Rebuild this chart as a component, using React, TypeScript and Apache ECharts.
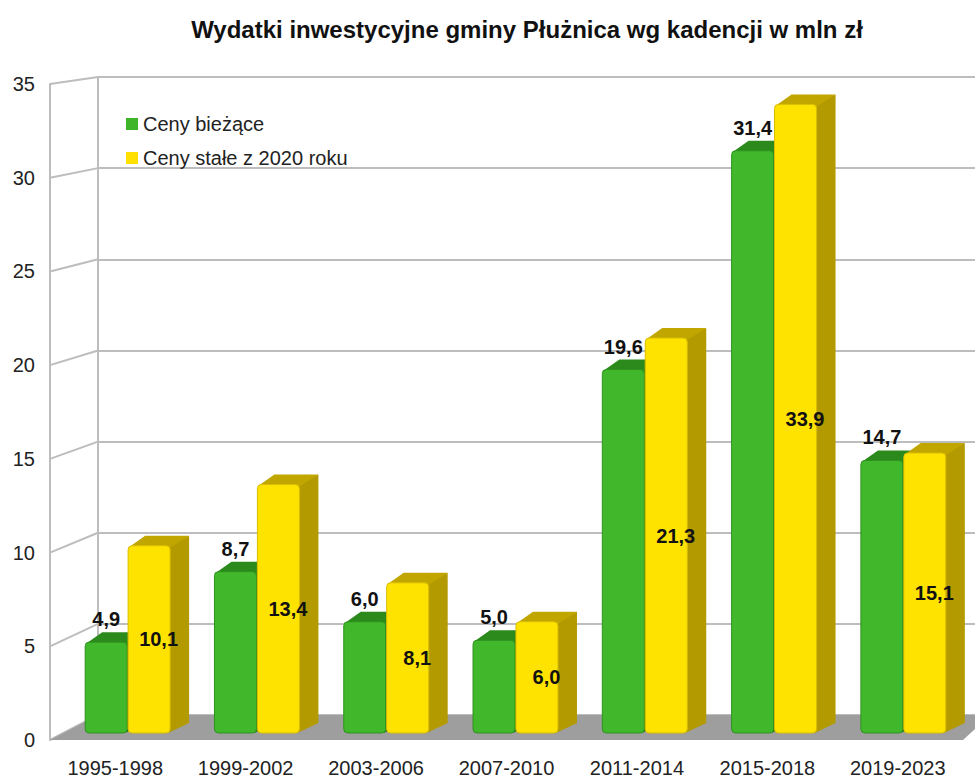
import React, { useEffect, useRef } from "react";
import * as echarts from "echarts";

const categories = ["1995-1998", "1999-2002", "2003-2006", "2007-2010", "2011-2014", "2015-2018", "2019-2023"];
const currentPrices = [4.9, 8.7, 6.0, 5.0, 19.6, 31.4, 14.7];
const constantPrices = [10.1, 13.4, 8.1, 6.0, 21.3, 33.9, 15.1];
const yTicks = [0, 5, 10, 15, 20, 25, 30, 35];
const seriesNames = ["Ceny bieżące", "Ceny stałe z 2020 roku"];

const FONT = '"Liberation Sans", Arial, Helvetica, sans-serif';
const Y_MAX = 35;

// layout (pixels)
const FRONT_LEFT = 50, FRONT_TOP = 84, FRONT_BOTTOM = 740;
const BACK_LEFT = 98, BACK_TOP = 77, BACK_BOTTOM = 715;
const DX = 19, DY = -10;
const GRID_LINE = "#bdbdbd";

const fmt = (v: number) => v.toFixed(1).replace(".", ",");

function makeRender(side: number, c: { front: string; stroke: string; top: string; side: string }, inside: boolean) {
  return (params: any, api: any) => {
    const idx = api.value(0);
    const v = api.value(1);
    const band = api.size([1, 0])[0];
    const w = band * 0.325;
    const off = band * 0.166 * side;
    const topPt = api.coord([idx, v]);
    const basePt = api.coord([idx, 0]);
    const cx = topPt[0] + off;
    const xl = cx - w / 2, xr = cx + w / 2;
    const yt = topPt[1], yb = basePt[1];
    const children: any[] = [
      {
        type: "polygon",
        shape: { points: [[xr - 2, yt], [xr + DX, yt + DY], [xr + DX, yb + DY], [xr - 2, yb]] },
        style: { fill: c.side },
      },
      {
        type: "polygon",
        shape: { points: [[xl, yt + 2], [xl + DX - 2, yt + DY], [xr + DX, yt + DY], [xr, yt + 2]] },
        style: { fill: c.top },
      },
      {
        type: "rect",
        shape: { x: xl, y: yt, width: w, height: yb - yt, r: 4 },
        style: { fill: c.front, stroke: c.stroke, lineWidth: 1 },
      },
    ];
    children.push({
      type: "text",
      style: {
        text: fmt(v),
        x: inside ? xl + (w + DX) / 2 : cx,
        y: inside ? (yt + yb) / 2 : yt - 23,
        align: "center", verticalAlign: "middle",
        font: `bold 20px ${FONT}`, fill: "#111",
      },
    });
    return { type: "group", children };
  };
}

export default function App() {
  const ref = useRef<HTMLDivElement>(null);
  useEffect(() => {
    if (!ref.current) return;
    const chart = echarts.init(ref.current, undefined, { renderer: "svg" });

    const yFront = (v: number) => FRONT_BOTTOM - (v / Y_MAX) * (FRONT_BOTTOM - FRONT_TOP);
    const yBack = (v: number) => BACK_BOTTOM - (v / Y_MAX) * (BACK_BOTTOM - BACK_TOP);
    const sideLines = yTicks.map((v) => ({
      type: "line",
      z: 0,
      shape: { x1: FRONT_LEFT, y1: yFront(v), x2: BACK_LEFT, y2: yBack(v) },
      style: { stroke: GRID_LINE, lineWidth: 2 },
    }));

    chart.setOption({
      animation: false,
      backgroundColor: "#ffffff",
      title: {
        text: "Wydatki inwestycyjne gminy Płużnica wg kadencji w mln zł",
        left: 522,
        textAlign: "center",
        top: 12,
        textStyle: { fontFamily: FONT, fontSize: 24, fontWeight: "bold", color: "#111" },
      },
      legend: {
        left: 121,
        top: 109,
        orient: "vertical",
        itemWidth: 12,
        itemHeight: 12,
        itemGap: 14,
        icon: "rect",
        data: seriesNames,
        textStyle: { fontFamily: FONT, fontSize: 20, color: "#222" },
      },
      grid: [
        { left: BACK_LEFT, top: BACK_TOP, width: 920, height: BACK_BOTTOM - BACK_TOP },
        { left: FRONT_LEFT, top: FRONT_TOP, width: 913, height: FRONT_BOTTOM - FRONT_TOP },
        { left: 63, top: 84, width: 905, height: 649 },
      ],
      xAxis: [
        { gridIndex: 0, type: "value", show: false },
        {
          gridIndex: 1, type: "category", data: categories,
          axisLine: { show: false }, axisTick: { show: false },
          axisLabel: { fontFamily: FONT, fontSize: 20, color: "#222", margin: 18 },
        },
        { gridIndex: 2, type: "category", data: categories, show: false },
      ],
      yAxis: [
        {
          gridIndex: 0, type: "value", min: 0, max: Y_MAX, interval: 5,
          axisLabel: { show: false }, axisTick: { show: false },
          axisLine: { show: true, lineStyle: { color: GRID_LINE, width: 2 } },
          splitLine: { show: true, lineStyle: { color: GRID_LINE, width: 2 } },
        },
        {
          gridIndex: 1, type: "value", min: 0, max: Y_MAX, interval: 5,
          axisTick: { show: false },
          axisLine: { show: true, lineStyle: { color: GRID_LINE, width: 2 } },
          splitLine: { show: false },
          axisLabel: { fontFamily: FONT, fontSize: 20, color: "#222", margin: 15 },
        },
        { gridIndex: 2, type: "value", min: 0, max: Y_MAX, show: false, splitLine: { show: false } },
      ],
      graphic: [
        ...sideLines,
        {
          type: "polygon",
          z: 1,
          shape: { points: [[FRONT_LEFT, FRONT_BOTTOM], [963, FRONT_BOTTOM], [990, BACK_BOTTOM], [BACK_LEFT, BACK_BOTTOM]] },
          style: { fill: "#9e9e9e" },
        },
      ],
      series: [
        {
          name: seriesNames[0],
          type: "custom",
          xAxisIndex: 2, yAxisIndex: 2,
          z: 5,
          itemStyle: { color: "#3fb52a" },
          data: currentPrices.map((v, i) => [i, v]),
          renderItem: makeRender(-1, { front: "#41b82b", stroke: "#2f9120", top: "#2c8a1c", side: "#277a18" }, false),
        },
        {
          name: seriesNames[1],
          type: "custom",
          xAxisIndex: 2, yAxisIndex: 2,
          z: 6,
          itemStyle: { color: "#ffe000" },
          data: constantPrices.map((v, i) => [i, v]),
          renderItem: makeRender(1, { front: "#ffe300", stroke: "#d9bd00", top: "#c2a600", side: "#b39a00" }, true),
        },
      ],
    });
    return () => chart.dispose();
  }, []);
  return <div ref={ref} style={{ position: "fixed", left: 0, top: 0, width: 975, height: 778 }} />;
}
